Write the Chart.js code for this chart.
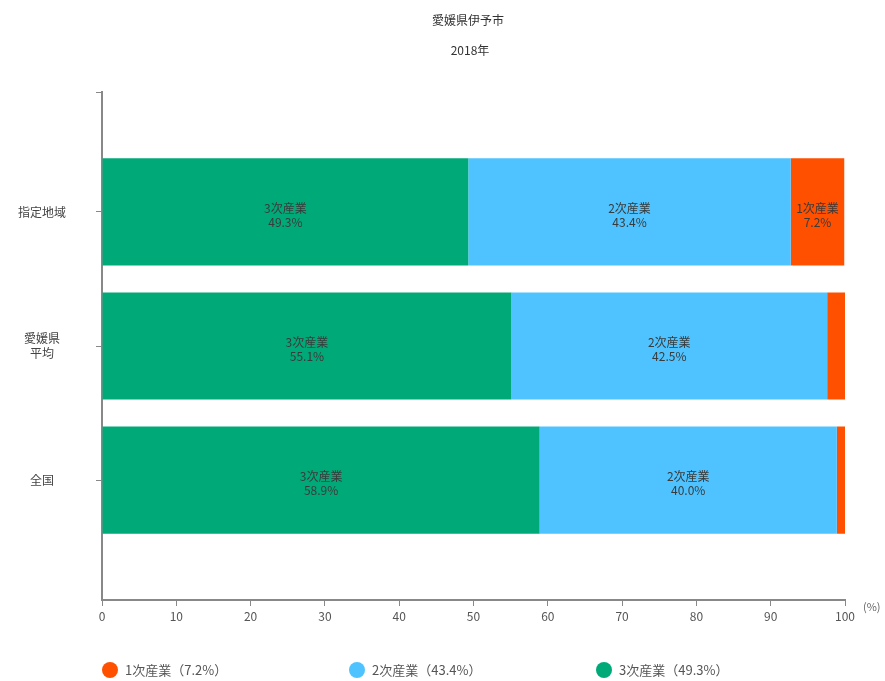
<!DOCTYPE html>
<html><head><meta charset="utf-8">
<script src="https://cdn.jsdelivr.net/npm/chart.js@4"></script>
<style>html,body{margin:0;padding:0;background:#fff}#wrap{width:885px;height:681px}</style>
</head><body><div id="wrap"><canvas id="c" width="885" height="681"></canvas></div>
<script>
const titleLines = ['愛媛県伊予市', '2018年'];
const categories = [['指定地域'], ['愛媛県', '平均'], ['全国']];
const seriesNames = ['3次産業', '2次産業', '1次産業'];
const tertiary = [49.3, 55.1, 58.9];
const secondary = [43.4, 42.5, 40.0];
const primary = [7.2, 2.4, 1.1];
const xTicks = [0, 10, 20, 30, 40, 50, 60, 70, 80, 90, 100];
const unitLabel = '(%)';
const colors = ['#00AA78', '#4FC3FF', '#FF5000'];

const FONT = '"Noto Sans CJK JP", "Noto Sans", sans-serif';
const seriesValues = [tertiary, secondary, primary];
const Y_MIN = -0.895, Y_MAX = 2.895;

const datasets = seriesValues.map((vals, i) => ({
  label: seriesNames[i],
  data: vals.map((v, k) => ({ x: v, y: k })),
  backgroundColor: colors[i],
  borderWidth: 0,
  categoryPercentage: 0.8,
  barPercentage: 1.0
}));

const decor = {
  id: 'decor',
  afterDatasetsDraw(chart) {
    const ctx = chart.ctx;
    ctx.save();
    ctx.font = '12px ' + FONT;
    ctx.fillStyle = '#3a3a3a';
    ctx.textAlign = 'center';
    ctx.textBaseline = 'middle';
    chart.data.datasets.forEach((ds, di) => {
      const meta = chart.getDatasetMeta(di);
      meta.data.forEach((bar, k) => {
        const w = Math.abs(bar.x - bar.base);
        if (w < 30) return;
        const cx = (bar.x + bar.base) / 2;
        ctx.fillText(ds.label, cx, bar.y - 4);
        ctx.fillText(seriesValues[di][k].toFixed(1) + '%', cx, bar.y + 10);
      });
    });
    ctx.restore();
  },
  afterDraw(chart) {
    const ctx = chart.ctx;
    const ca = chart.chartArea;
    ctx.save();
    // small end tick at top of the y axis
    ctx.strokeStyle = '#888';
    ctx.lineWidth = 1;
    ctx.beginPath();
    ctx.moveTo(ca.left - 6, ca.top + 0.5);
    ctx.lineTo(ca.left, ca.top + 0.5);
    ctx.stroke();
    ctx.font = '12px ' + FONT;
    ctx.fillStyle = '#333';
    ctx.textAlign = 'center';
    ctx.textBaseline = 'middle';
    ctx.fillText(titleLines[0], 468, 20);
    ctx.fillText(titleLines[1], 470, 50);
    ctx.font = '11px ' + FONT;
    ctx.fillStyle = '#666';
    ctx.textAlign = 'left';
    ctx.fillText(unitLabel, ca.right + 18, ca.bottom + 7);
    const order = [2, 1, 0];
    ctx.font = '13px ' + FONT;
    order.forEach((di, j) => {
      const cx = 110 + j * 247;
      const cy = 670;
      ctx.beginPath();
      ctx.arc(cx, cy, 8, 0, Math.PI * 2);
      ctx.fillStyle = colors[di];
      ctx.fill();
      ctx.fillStyle = '#555';
      ctx.textAlign = 'left';
      ctx.fillText(seriesNames[di] + '（' + seriesValues[di][0].toFixed(1) + '%）', cx + 15, cy);
    });
    ctx.restore();
  }
};

new Chart(document.getElementById('c'), {
  type: 'bar',
  data: { datasets },
  options: {
    responsive: false,
    animation: false,
    indexAxis: 'y',
    layout: { padding: { top: 92, right: 40, bottom: 51, left: 0 } },
    plugins: { legend: { display: false }, tooltip: { enabled: false } },
    scales: {
      x: {
        type: 'linear',
        stacked: true,
        min: 0, max: 100,
        afterBuildTicks: (s) => { s.ticks = xTicks.map(v => ({ value: v })); },
        afterFit: (s) => { s.height = 30; },
        border: { color: '#888', width: 2 },
        grid: { drawOnChartArea: false, drawTicks: true, tickLength: 6, color: '#888' },
        ticks: { color: '#555', font: { size: 12, family: FONT }, padding: 3, maxRotation: 0 }
      },
      y: {
        type: 'linear',
        stacked: true,
        reverse: true,
        offset: false,
        min: Y_MIN, max: Y_MAX,
        afterBuildTicks: (s) => { s.ticks = categories.map((c, i) => ({ value: i })); },
        afterFit: (s) => { s.width = 102; },
        border: { color: '#888', width: 2 },
        grid: { offset: false, drawOnChartArea: false, drawTicks: true, tickLength: 6, color: '#888' },
        ticks: {
          color: '#444',
          font: { size: 12, family: FONT },
          crossAlign: 'center',
          padding: 30,
          callback: (v) => categories[v]
        }
      }
    }
  },
  plugins: [decor]
});
</script>
</body></html>
